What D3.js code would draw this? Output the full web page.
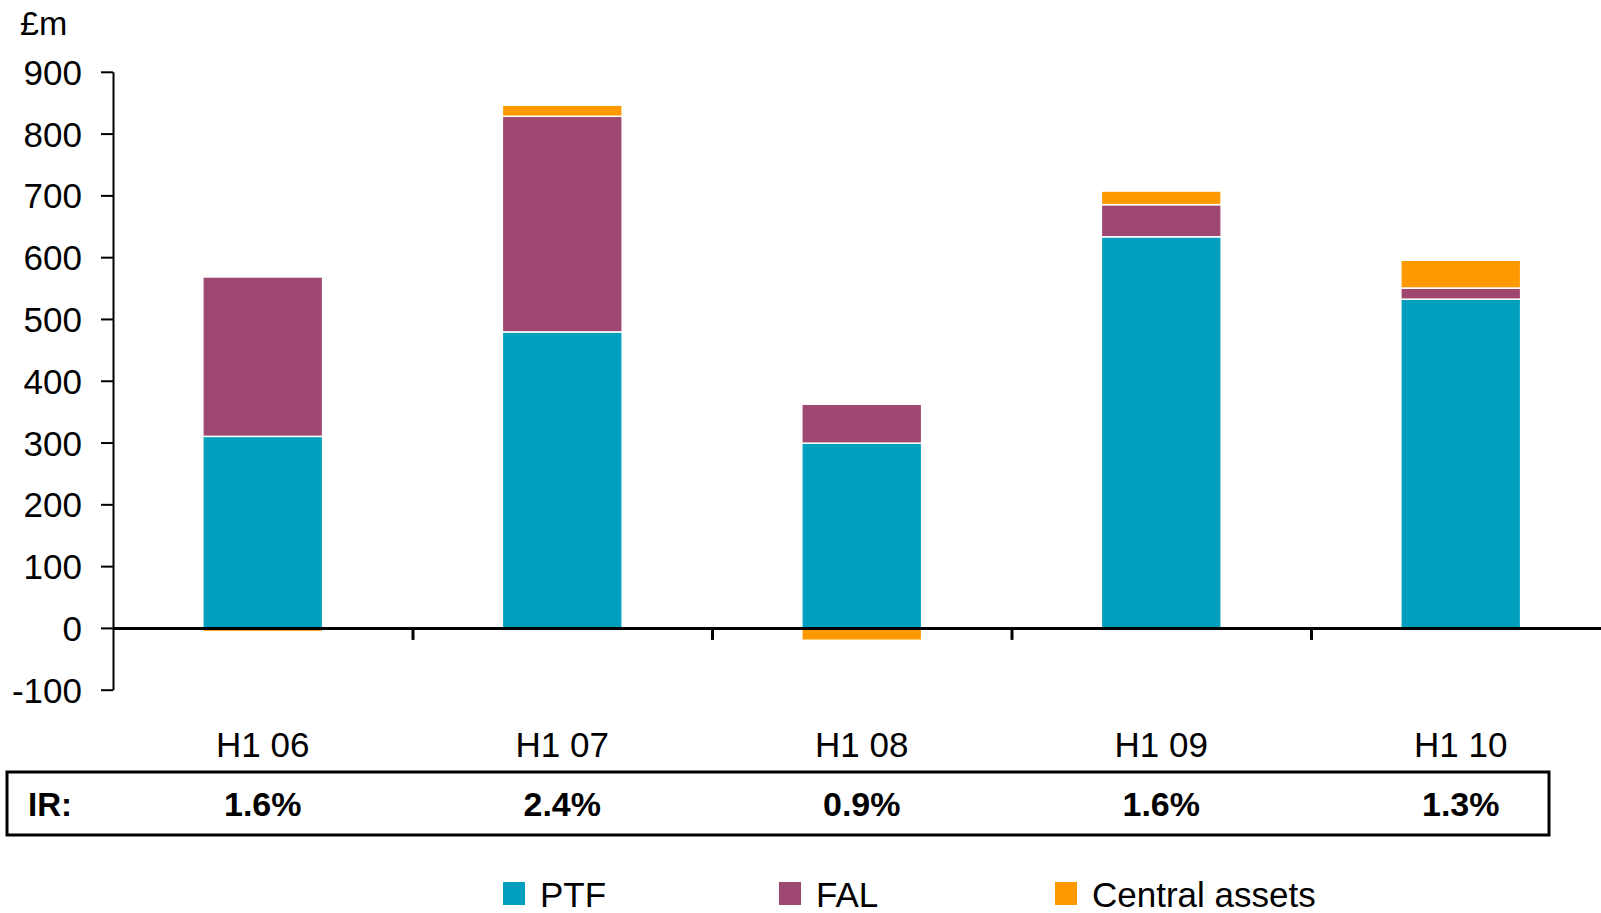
<!DOCTYPE html>
<head>
  <meta charset="utf-8">
  <style>
    body { margin: 0; background: #fff; }
    svg text { font-family: "Liberation Sans", Arial, sans-serif; fill: #000; }
    svg .y-axis .tick text { font-size: 35px; }
    svg .y-axis path, svg .y-axis line { stroke: #000; stroke-width: 2px; }
    svg .x-axis path, svg .x-axis line { stroke: #000; stroke-width: 3px; }
  </style>
</head>
<body>
<script src="https://d3js.org/d3.v7.min.js"></script>
<script>
  // data (GBP m)
  var categories = ["H1 06", "H1 07", "H1 08", "H1 09", "H1 10"];
  var ptf     = [310, 479, 299, 633, 532];
  var fal     = [258, 349, 63, 52, 18];
  var central = [-6, 18, -20, 22, 45];
  var irLabels = ["1.6%", "2.4%", "0.9%", "1.6%", "1.3%"];
  var seriesKeys  = ["ptf", "fal", "central"];
  var seriesNames = ["PTF", "FAL", "Central assets"];
  var yTicks = [-100, 0, 100, 200, 300, 400, 500, 600, 700, 800, 900];

  var W = 1601, H = 913;
  var plotLeft = 113, step = 299.5;

  var svg = d3.select("body").append("svg")
      .attr("width", W)
      .attr("height", H);

  var colour = d3.scaleOrdinal()
      .domain(seriesKeys)
      .range(["#009fbd", "#9e4770", "#ff9900"]);

  // scales
  var x = d3.scaleBand()
      .domain(categories)
      .range([plotLeft, plotLeft + step * categories.length])
      .paddingInner(0.6)
      .paddingOuter(0.3);

  var y = d3.scaleLinear().domain([-100, 900]).range([689.7, 71.8]);

  // stacked data
  var table = categories.map(function (c, i) {
    return { cat: c, ptf: ptf[i], fal: fal[i], central: central[i] };
  });
  var stacked = d3.stack()
      .keys(seriesKeys)
      .offset(d3.stackOffsetDiverging)(table);

  // y axis (plain hyphen for negatives, like the original)
  svg.append("g")
      .classed("y-axis", true)
      .attr("transform", "translate(" + plotLeft + ",0)")
      .call(d3.axisLeft(y)
        .tickValues(yTicks)
        .tickFormat(function (d) { return String(d); })
        .tickSize(12)
        .tickSizeOuter(0)
        .tickPadding(19));
  svg.selectAll(".y-axis .tick text").attr("dy", "0.36em");

  svg.append("text")
      .attr("x", 20)
      .attr("y", 35)
      .style("font-size", "34px")
      .text("£m");

  // bars
  svg.append("g").selectAll("g")
    .data(stacked)
    .join("g")
      .attr("fill", function (d) { return colour(d.key); })
    .selectAll("rect")
    .data(function (d) { return d; })
    .join("rect")
      .attr("x", function (d) { return x(d.data.cat); })
      .attr("width", x.bandwidth())
      .attr("y", function (d) { return y(Math.max(d[0], d[1])); })
      .attr("height", function (d) { return Math.abs(y(d[0]) - y(d[1])); })
      .attr("stroke", "#fff")
      .attr("stroke-width", 1.5);

  // x axis at zero, ticks on category boundaries
  var xb = d3.scaleLinear()
      .domain([0, categories.length])
      .range([plotLeft, plotLeft + step * categories.length]);

  svg.append("g")
      .classed("x-axis", true)
      .attr("transform", "translate(0," + y(0) + ")")
      .call(d3.axisBottom(xb)
        .tickValues(d3.range(1, categories.length))
        .tickFormat("")
        .tickSize(12)
        .tickSizeOuter(0));

  // category labels
  svg.append("g").selectAll("text")
    .data(categories)
    .join("text")
      .attr("x", function (d) { return x(d) + x.bandwidth() / 2; })
      .attr("y", 757)
      .attr("text-anchor", "middle")
      .style("font-size", "35px")
      .text(function (d) { return d; });

  // IR box
  svg.append("rect")
      .attr("x", 7)
      .attr("y", 772)
      .attr("width", 1542)
      .attr("height", 63)
      .attr("fill", "none")
      .attr("stroke", "#000")
      .attr("stroke-width", 3);

  svg.append("text")
      .attr("x", 28)
      .attr("y", 816)
      .style("font-size", "33px")
      .style("font-weight", "bold")
      .text("IR:");

  svg.append("g").selectAll("text")
    .data(irLabels)
    .join("text")
      .attr("x", function (d, i) { return x(categories[i]) + x.bandwidth() / 2; })
      .attr("y", 816)
      .attr("text-anchor", "middle")
      .style("font-size", "34px")
      .style("font-weight", "bold")
      .text(function (d) { return d; });

  // legend
  var legend = svg.append("g").selectAll("g")
    .data(seriesKeys)
    .join("g")
      .attr("transform", function (d, i) { return "translate(" + (503 + i * 276) + ",882)"; });

  legend.append("rect")
      .attr("width", 22)
      .attr("height", 23)
      .attr("fill", function (d) { return colour(d); });

  legend.append("text")
      .attr("x", 37)
      .attr("y", 25)
      .style("font-size", "35px")
      .text(function (d, i) { return seriesNames[i]; });
</script>
</body>
</html>
